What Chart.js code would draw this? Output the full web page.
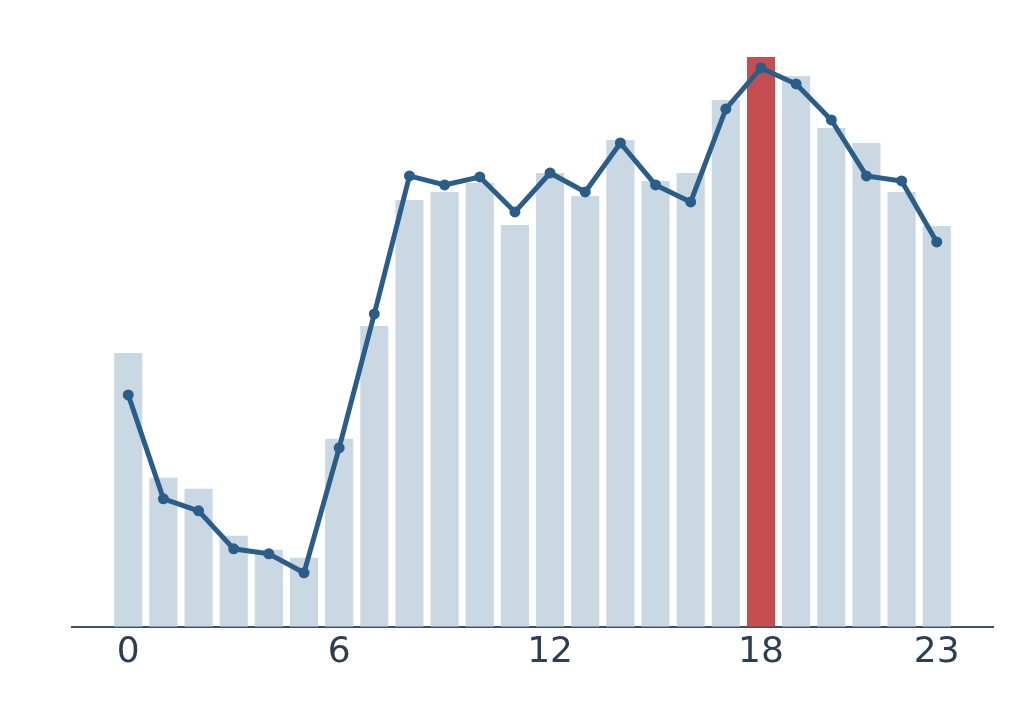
<!DOCTYPE html>
<html>
<head>
<meta charset="utf-8">
<script src="https://cdn.jsdelivr.net/npm/chart.js@4/dist/chart.umd.min.js"></script>
<style>
  html, body { margin: 0; padding: 0; background: #fff; }
  canvas { display: block; }
</style>
</head>
<body>
<canvas id="hourChart" width="1024" height="704"></canvas>
<script>
// ===== DATA =====
const hours = [0, 1, 2, 3, 4, 5, 6, 7, 8, 9, 10, 11, 12, 13, 14, 15, 16, 17, 18, 19, 20, 21, 22, 23];
const barValues = [274, 149, 138, 91, 77, 69, 188, 301, 427, 435, 444, 402, 454, 431, 487, 446, 454, 527, 570, 551, 499, 484, 435, 401];
const lineValues = [232, 128, 116, 78, 73, 54, 179, 313, 451, 442, 450, 415, 454, 435, 484, 442, 425, 518, 559, 543, 507, 451, 446, 385];
const tickHours = [0, 6, 12, 18, 23];
const peakHour = 18;

// ===== CHART =====
function initHourChart() {
  const ctx = document.getElementById("hourChart").getContext("2d");
  new Chart(ctx, {
    data: {
      datasets: [
        {
          type: "line",
          data: hours.map((h, i) => ({ x: h, y: lineValues[i] })),
          borderColor: "#2b5d89",
          backgroundColor: "#2b5d89",
          borderWidth: 5,
          pointRadius: 5.5,
          pointBorderWidth: 0,
          tension: 0,
          order: 0,
        },
        {
          type: "bar",
          data: hours.map((h, i) => ({ x: h, y: barValues[i] })),
          backgroundColor: hours.map((h) => (h === peakHour ? "#c44e52" : "#cad8e4")),
          categoryPercentage: 1,
          barPercentage: 0.8,
          order: 1,
        },
      ],
    },
    options: {
      responsive: false,
      animation: false,
      devicePixelRatio: 1,
      layout: { padding: { left: 72, right: 31, top: 27, bottom: 26 } },
      plugins: { legend: { display: false }, tooltip: { enabled: false } },
      scales: {
        x: {
          type: "linear",
          offset: false,
          min: -1.6,
          max: 24.6,
          afterBuildTicks: (scale) => {
            scale.ticks = tickHours.map((v) => ({ value: v }));
          },
          grid: { display: false, drawTicks: false },
          border: { display: true, color: "#3b5061", width: 2 },
          ticks: {
            color: "#2c3e50",
            font: { family: "DejaVu Sans", size: 36 },
            padding: 4,
            autoSkip: false,
            maxRotation: 0,
          },
        },
        y: {
          display: false,
          min: 0,
          max: 600,
        },
      },
    },
  });
}

document.addEventListener("DOMContentLoaded", function () {
  if (typeof Chart !== "undefined") {
    initHourChart();
  }
});
</script>
</body>
</html>
